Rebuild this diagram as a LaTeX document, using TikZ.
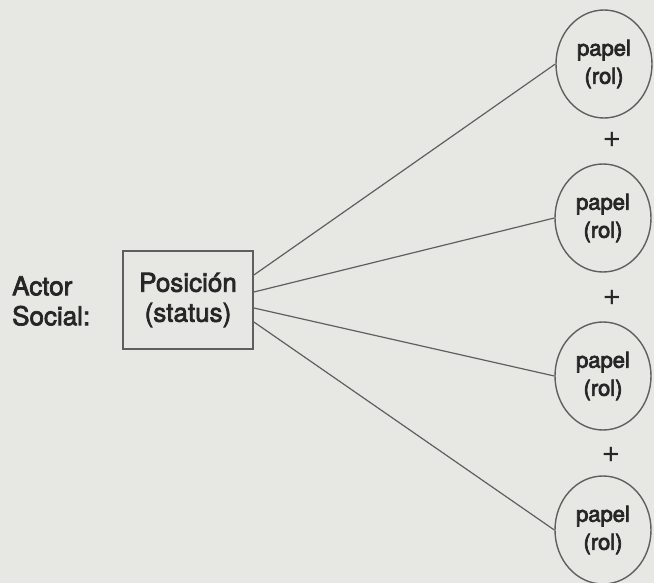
\documentclass[tikz,border=0pt]{standalone}
\usepackage{fontspec}
\setmainfont{TeX Gyre Heros}
\usetikzlibrary{shapes.geometric}
\newcommand\inkthick{\special{pdf:literal direct 2 Tr 0.7 w}}
\newcommand\inkthin{\special{pdf:literal direct 0 Tr}}
\definecolor{paper}{RGB}{231,231,228}
\definecolor{ink}{RGB}{38,38,38}
\definecolor{lineink}{RGB}{95,95,95}
\tikzset{
  bigtext/.style={font=\fontsize{26}{30}\selectfont, text=ink, align=center, inner sep=0pt},
  posbox/.style={draw=lineink, line width=1.8pt, minimum width=130pt, minimum height=98pt, bigtext},
  rolcirc/.style={ellipse, draw=lineink, line width=1.4pt, minimum width=96pt, minimum height=108pt,
    font=\fontsize{22}{28}\selectfont, text=ink, align=center, inner sep=0pt},
  plussign/.style={font=\fontsize{32}{34}\selectfont, text=ink, inner sep=0pt},
  conn/.style={draw=lineink, line width=1.2pt}
}
\begin{document}
\begin{tikzpicture}[x=1pt,y=-1pt]
\fill[paper] (0,0) rectangle (654,583);
\useasboundingbox (0,0) rectangle (654,583);
\node[bigtext, align=left, anchor=west] (actor) at (12,301) {\inkthick Actor\inkthin\\\inkthick Social:\inkthin};
\node[posbox] (pos) at (188,300) {\inkthick Posición\inkthin\\\inkthick(status)\inkthin};
\node[rolcirc] (r1) at (604,64) {\inkthick papel\inkthin\\\inkthick(rol)\inkthin};
\node[rolcirc] (r2) at (603,218) {\inkthick papel\inkthin\\\inkthick(rol)\inkthin};
\node[rolcirc] (r3) at (603,376) {\inkthick papel\inkthin\\\inkthick(rol)\inkthin};
\node[rolcirc] (r4) at (603,530) {\inkthick papel\inkthin\\\inkthick(rol)\inkthin};
\node[plussign] (p1) at (612,140) {+};
\node[plussign] (p2) at (612,298) {+};
\node[plussign] (p3) at (611,455) {+};
\draw[conn] ([yshift=25pt]pos.east) -- (r1.west);
\draw[conn] ([yshift=8pt]pos.east) -- (r2.west);
\draw[conn] ([yshift=-8pt]pos.east) -- (r3.west);
\draw[conn] ([yshift=-22pt]pos.east) -- (r4.west);
\end{tikzpicture}
\end{document}
